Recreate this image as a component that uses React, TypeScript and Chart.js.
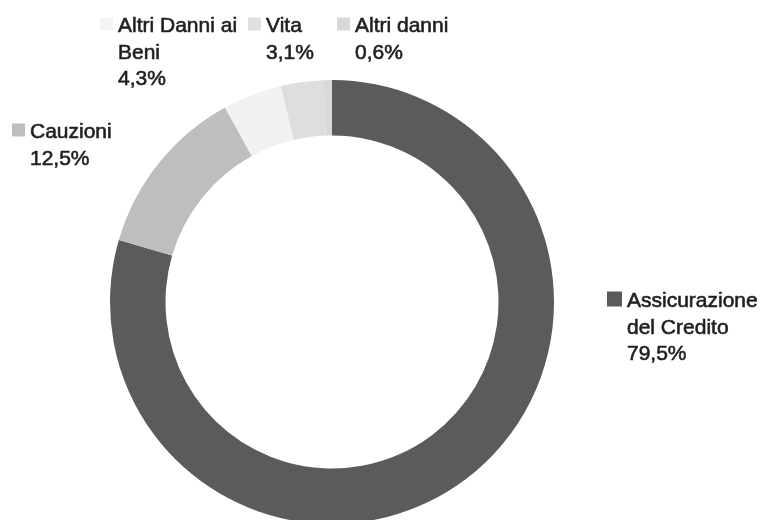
import React, { useEffect, useRef } from "react";
import { Chart, registerables } from "chart.js";

Chart.register(...registerables);

const categories = [
  "Assicurazione del Credito",
  "Cauzioni",
  "Altri Danni ai Beni",
  "Vita",
  "Altri danni",
];
const values = [79.5, 12.5, 4.3, 3.1, 0.6];
const colors = ["#5b5b5b", "#bebebe", "#f1f1f1", "#dedede", "#d9d9d9"];
const markerColors = ["#5b5b5b", "#bebebe", "#f4f4f4", "#e0e0e0", "#d8d8d8"];
// label anchor: x of marker, baseline of first line
const labelPos = [
  { x: 607, y: 307 },
  { x: 12, y: 138 },
  { x: 100, y: 32 },
  { x: 248, y: 32 },
  { x: 337, y: 32 },
];
const markerSizes = [15, 13, 13, 13, 13];

const FONT = "21px 'Liberation Sans', Arial, sans-serif";
const LINE_H = 26.5;
const WRAP = 135;

function wrap(ctx: CanvasRenderingContext2D, text: string, maxW: number): string[] {
  const words = text.split(" ");
  const lines: string[] = [];
  let cur = "";
  for (const w of words) {
    const t = cur ? cur + " " + w : w;
    if (ctx.measureText(t).width > maxW && cur) {
      lines.push(cur);
      cur = w;
    } else cur = t;
  }
  if (cur) lines.push(cur);
  return lines;
}

const labelPlugin = {
  id: "outLabels",
  afterDraw(chart: any) {
    const ctx: CanvasRenderingContext2D = chart.ctx;
    ctx.save();
    ctx.font = FONT;
    ctx.textBaseline = "alphabetic";
    ctx.textAlign = "left";
    categories.forEach((c, i) => {
      const p = labelPos[i];
      const lines = wrap(ctx, c, WRAP);
      lines.push(values[i].toFixed(1).replace(".", ",") + "%");
      const s = markerSizes[i];
      ctx.fillStyle = markerColors[i];
      ctx.fillRect(p.x, p.y - 8 - s / 2, s, s);
      ctx.fillStyle = "#1f1f1f";
      ctx.strokeStyle = "#1f1f1f";
      ctx.lineWidth = 0.6;
      const tx = p.x + s + 5;
      lines.forEach((l, k) => {
        ctx.fillText(l, tx, p.y + k * LINE_H);
        ctx.strokeText(l, tx, p.y + k * LINE_H);
      });
    });
    ctx.restore();
  },
};

export default function App() {
  const ref = useRef<HTMLCanvasElement>(null);
  useEffect(() => {
    if (!ref.current) return;
    const chart = new Chart(ref.current, {
      type: "doughnut",
      data: {
        labels: categories,
        datasets: [
          {
            data: values,
            backgroundColor: colors,
            borderWidth: 0,
          },
        ],
      },
      options: {
        animation: false,
        responsive: false,
        cutout: "75%",
        layout: { padding: { left: 110, right: 207, top: 80, bottom: 16 } },
        plugins: { legend: { display: false }, tooltip: { enabled: false } },
      },
      plugins: [labelPlugin],
    });
    return () => chart.destroy();
  }, []);
  return (
    <div
      style={{
        position: "fixed",
        left: 0,
        top: 0,
        width: 761,
        height: 520,
        overflow: "hidden",
        background: "#fff",
      }}
    >
      <canvas ref={ref} width={761} height={540} style={{ width: 761, height: 540 }} />
    </div>
  );
}
